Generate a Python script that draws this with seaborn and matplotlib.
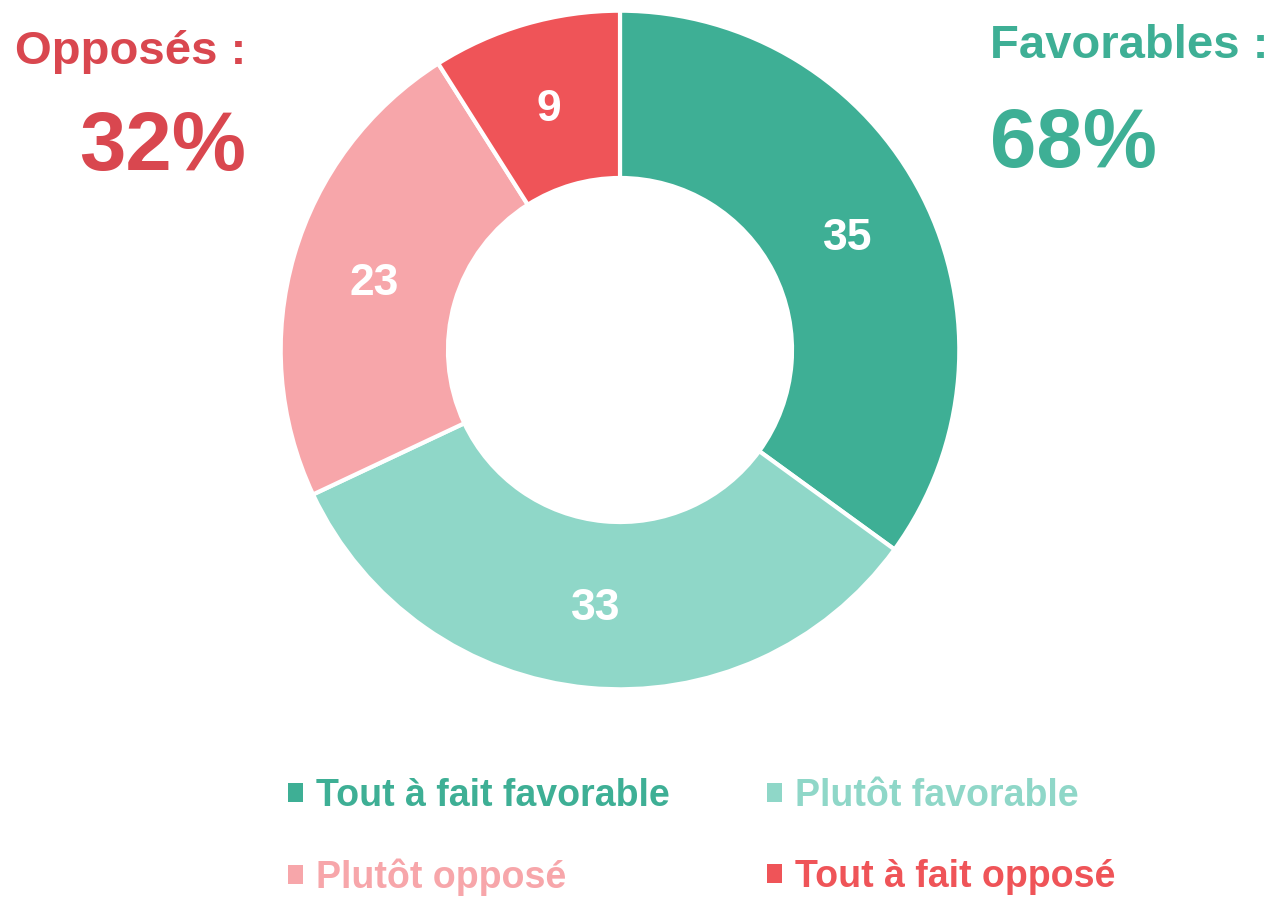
import matplotlib
matplotlib.use("Agg")
import matplotlib.pyplot as plt
import seaborn as sns
from matplotlib.patches import Patch

sns.set_theme(style="white")
plt.rcParams['font.family'] = ['Liberation Sans', 'DejaVu Sans']

# data
categories = ["Tout à fait favorable", "Plutôt favorable", "Plutôt opposé", "Tout à fait opposé"]
values = [35, 33, 23, 9]
colors = ["#3EAF95", "#8FD7C8", "#F7A6AA", "#EF5458"]
favorable_total = "68%"
opposed_total = "32%"

fig = plt.figure(figsize=(12.76, 8.97), dpi=100)
W, H = 1276, 897
ax = fig.add_axes([279 / W, (H - 691) / H, 682 / W, 682 / H])

wedges, texts = ax.pie(
    values, colors=colors, startangle=90, counterclock=False,
    labels=[str(v) for v in values], labeldistance=0.753,
    wedgeprops=dict(width=0.493, edgecolor="white", linewidth=3),
    textprops=dict(color="white", fontsize=32, fontweight="bold"),
)
for t in texts:
    t.set_ha("center")
    t.set_va("center_baseline")
ax.set_aspect("equal")
ax.set_xlim(-1.005, 1.005)
ax.set_ylim(-1.005, 1.005)

# side totals
fig.text(246 / W, 1 - 52 / H, "Opposés :", color="#D9474F", fontsize=34,
         fontweight="bold", ha="right", va="center")
fig.text(246 / W, 1 - 148 / H, opposed_total, color="#D9474F", fontsize=60,
         fontweight="bold", ha="right", va="center")
fig.text(990 / W, 1 - 46 / H, "Favorables :", color="#3EAF95", fontsize=34,
         fontweight="bold", ha="left", va="center")
fig.text(990 / W, 1 - 145 / H, favorable_total, color="#3EAF95", fontsize=60,
         fontweight="bold", ha="left", va="center")

# legend (column-major order for ncol=2)
order = [0, 2, 1, 3]
handles = [Patch(facecolor=colors[i], edgecolor="none") for i in order]
labels = [categories[i] for i in order]
leg = fig.legend(
    handles, labels, ncol=2, loc="center left",
    bbox_to_anchor=(254 / W, 1 - 837 / H), frameon=False,
    prop=dict(family=['Liberation Sans Narrow', 'Liberation Sans'], weight="bold", size=27),
    labelcolor=[colors[i] for i in order],
    handlelength=0.4, handleheight=0.4, handletextpad=0.35,
    columnspacing=2.6, labelspacing=1.2,
)

fig.savefig("out.png", dpi=100, facecolor="white")
